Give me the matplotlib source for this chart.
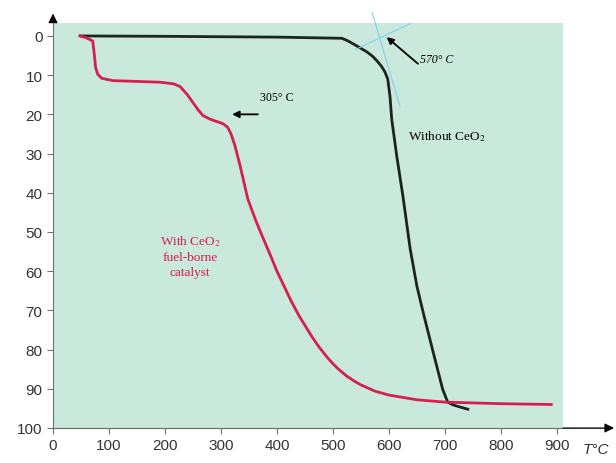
import matplotlib.pyplot as plt

# curve without CeO2 (temperature, weight loss)
t_plain = [50, 200, 400, 516, 526, 536, 548, 561, 571, 579, 587, 593, 598, 602, 605, 614, 625, 638, 650, 661, 679, 696, 705, 713, 721, 741]
w_plain = [0, 0.1, 0.3, 0.6, 1.2, 2.0, 3.0, 4.1, 5.2, 6.4, 7.8, 9.2, 11.0, 15.5, 21.2, 30.6, 40.8, 54.3, 63.8, 70.4, 80.6, 90.1, 93.4, 94.0, 94.4, 95.2]

# curve with CeO2 fuel-borne catalyst
t_ceo2 = [48, 60, 71, 74, 76, 80, 87, 107, 150, 191, 215, 227, 240, 250, 260, 268, 280, 292, 304, 312, 318, 325, 334, 348,
          362, 375, 390, 400, 415, 425, 440, 450, 462, 475, 490, 500, 510, 525, 540, 550, 575, 600, 650, 700, 800, 890]
w_ceo2 = [0, 0.5, 1.3, 5.0, 8.0, 9.8, 10.8, 11.4, 11.6, 11.8, 12.2, 12.9, 15.0, 17.0, 19.0, 20.3, 21.2, 21.8, 22.4, 23.3, 25.0, 28.0, 33.0, 41.6,
          47.0, 51.5, 56.5, 60, 64.5, 67.5, 71.5, 73.8, 76.6, 79.3, 82.0, 83.6, 85.0, 86.8, 88.2, 89.0, 90.6, 91.6, 92.8, 93.4, 93.8, 94]

xticks = [0, 100, 200, 300, 400, 500, 600, 700, 800, 900]
yticks = [0, 10, 20, 30, 40, 50, 60, 70, 80, 90, 100]

red = '#d81e4e'
grey = '#707070'

plt.rcParams['font.family'] = ['Liberation Sans', 'DejaVu Sans']
plt.rcParams['mathtext.fontset'] = 'stix'

fig = plt.figure(figsize=(6.16, 4.64), dpi=100)
ax = fig.add_axes([53/616, 1-429/464, 510/616, 405/464])
ax.set_facecolor('#c8e9dc')

ax.plot(t_plain, w_plain, color='#1c2420', lw=2)
ax.plot(t_ceo2, w_ceo2, color=red, lw=2)

ax.set_xlim(0, 911)
ax.set_ylim(100, -3.3)
ax.set_xticks(xticks)
ax.set_yticks(yticks)
ax.tick_params(colors=grey, labelcolor='#333333', labelsize=11, length=4, width=0.8)
for s in ['top', 'right']:
    ax.spines[s].set_visible(False)
for s in ['left', 'bottom']:
    ax.spines[s].set_color(grey)

# axis arrows
ax.annotate('', xy=(0, 1.03), xytext=(0, 1.0), xycoords='axes fraction',
            arrowprops=dict(arrowstyle='-|>', color='black', lw=0.8, mutation_scale=14), annotation_clip=False)
ax.annotate('', xy=(1.1, 0), xytext=(1.0, 0), xycoords='axes fraction',
            arrowprops=dict(arrowstyle='-|>', color='black', lw=0.8, mutation_scale=14,
                            shrinkA=0, shrinkB=0), annotation_clip=False)
ax.plot([0, 1.09], [0, 0], transform=ax.transAxes, color=grey, lw=0.8, clip_on=False)
ax.text(1.065, -0.052, 'T°C', transform=ax.transAxes, fontsize=11, style='italic',
        color='#333333', ha='center', va='center')

# tangent construction near 570 C
ax.plot([570, 620], [-6, 18], color='#7fd3e6', lw=0.8, clip_on=False)
ax.plot([540, 640], [3.5, -3.3], color='#7fd3e6', lw=0.8)

serif = ['Liberation Serif', 'DejaVu Serif']
ax.annotate('', xy=(596, 0.3), xytext=(652, 7.1),
            arrowprops=dict(arrowstyle='-|>', color='black', lw=1.3, mutation_scale=10, shrinkA=0, shrinkB=0))
ax.text(656, 5.9, '570° C', family=serif, fontsize=8.5, style='italic', va='center', ha='left')

ax.annotate('', xy=(320, 20), xytext=(366, 20),
            arrowprops=dict(arrowstyle='-|>', color='black', lw=1.3, mutation_scale=10, shrinkA=0, shrinkB=0))
ax.text(400, 15.5, '305° C', family=serif, fontsize=8.5, va='center', ha='center')

ax.text(634, 25.5, 'Without CeO$_2$', family=serif, fontsize=9.5, va='center', ha='left')
ax.text(245, 56, 'With CeO$_2$\nfuel-borne\ncatalyst', family=serif, fontsize=9.5, color=red,
        va='center', ha='center', linespacing=1.3)

fig.savefig('out.png', dpi=100)
